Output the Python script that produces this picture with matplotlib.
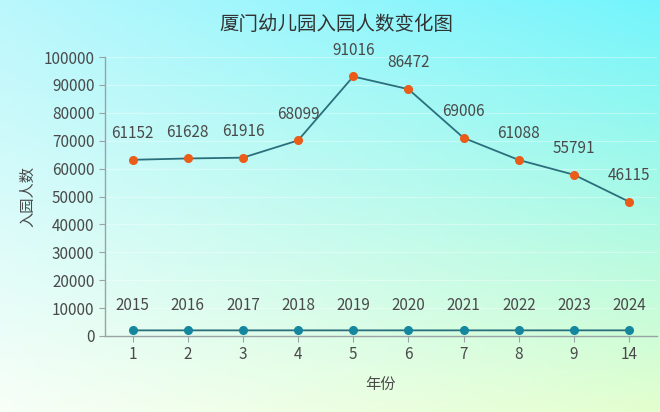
import matplotlib
matplotlib.use("Agg")
import matplotlib.pyplot as plt
import numpy as np

plt.rcParams['font.family'] = ['Noto Sans CJK SC', 'DejaVu Sans']

# data
x_labels = ['1', '2', '3', '4', '5', '6', '7', '8', '9', '14']
years = [2015, 2016, 2017, 2018, 2019, 2020, 2021, 2022, 2023, 2024]
enrolment = [61152, 61628, 61916, 68099, 91016, 86472, 69006, 61088, 55791, 46115]

TEXT = '#4a4a4a'
LINE = '#2b6f7c'


def main():
    fig = plt.figure(figsize=(6.6, 4.12), dpi=100)

    # gradient background: cyan at top, pale yellow-green at bottom
    bg = fig.add_axes([0, 0, 1, 1], zorder=-1)
    tl = np.array([0.73, 0.97, 0.99])
    tr = np.array([0.45, 0.96, 0.99])
    bl = np.array([0.97, 1.00, 0.97])
    br = np.array([0.89, 1.00, 0.81])
    u = np.linspace(0, 1, 200)[None, :, None]
    v = np.linspace(0, 1, 130)[:, None, None]
    img = (1 - v) * ((1 - u) * tl + u * tr) + v * ((1 - u) * bl + u * br)
    bg.imshow(img, aspect='auto', extent=[0, 1, 0, 1])
    bg.axis('off')

    ax = fig.add_axes([0.159, 0.1845, 0.836, 0.677])
    ax.set_facecolor('none')

    pos = np.arange(len(x_labels))
    years_arr = np.array(years)
    stacked = years_arr + np.array(enrolment)  # stacked line chart

    ax.plot(pos, years_arr, color=LINE, lw=1.3, marker='o', ms=5.5,
            mfc='#14879e', mec='#14879e', zorder=3)
    ax.plot(pos, stacked, color=LINE, lw=1.3, marker='o', ms=5.5,
            mfc='#ea5c17', mec='#ea5c17', zorder=3)

    for p, y, t in zip(pos, years_arr, years):
        ax.annotate(str(t), (p, y), xytext=(0, 18), textcoords='offset points',
                    ha='center', va='center', fontsize=11, color=TEXT)
    for p, y, t in zip(pos, stacked, enrolment):
        ax.annotate(str(t), (p, y), xytext=(0, 19), textcoords='offset points',
                    ha='center', va='center', fontsize=11, color=TEXT)

    ax.set_xlim(-0.5, len(x_labels) - 0.5)
    ax.set_ylim(0, 100000)
    ax.set_xticks(pos)
    ax.set_xticklabels(x_labels)
    ax.set_yticks(np.arange(0, 100001, 10000))
    ax.tick_params(colors='#9aa4a6', labelcolor=TEXT, labelsize=11, length=4)
    ax.grid(axis='y', color='white', alpha=0.35, lw=0.8)
    ax.set_axisbelow(True)

    for s in ['top', 'right']:
        ax.spines[s].set_visible(False)
    for s in ['left', 'bottom']:
        ax.spines[s].set_color('#9aa4a6')
        ax.spines[s].set_linewidth(1.0)

    ax.set_xlabel('年份', fontsize=11, color=TEXT, labelpad=9)
    ax.set_ylabel('入园人数', fontsize=11, color=TEXT, labelpad=5)
    fig.text(0.51, 0.94, '厦门幼儿园入园人数变化图', ha='center', va='center',
             fontsize=14, color='#333333')

    fig.savefig('out.png', dpi=100)


if __name__ == '__main__':
    main()
